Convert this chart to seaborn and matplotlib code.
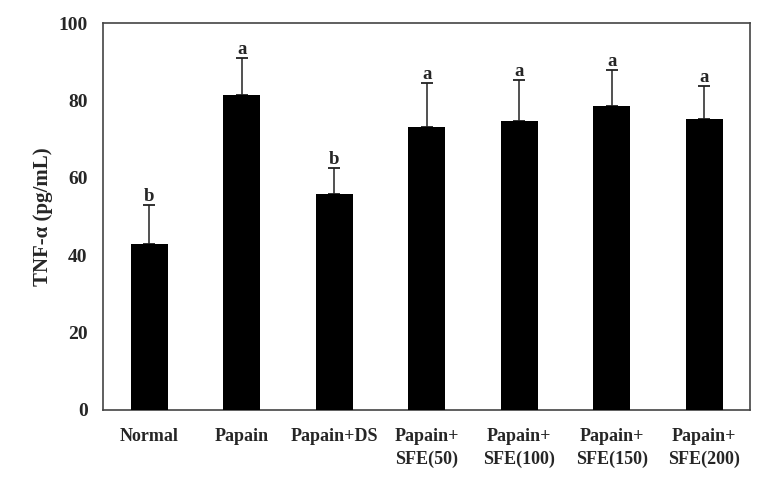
import matplotlib
matplotlib.use("Agg")
import matplotlib.pyplot as plt
import seaborn as sns
import numpy as np
import pandas as pd

categories = ["Normal", "Papain", "Papain+DS", "Papain+\nSFE(50)", "Papain+\nSFE(100)",
              "Papain+\nSFE(150)", "Papain+\nSFE(200)"]
values = [42.9, 81.4, 55.7, 73.2, 74.8, 78.6, 75.2]
errors = [10.1, 9.6, 6.9, 11.2, 10.6, 9.2, 8.6]
letters = ["b", "a", "b", "a", "a", "a", "a"]
yticks = [0, 20, 40, 60, 80, 100]

sns.set_style("white")
plt.rcParams["font.family"] = ["Liberation Serif", "DejaVu Serif"]
plt.rcParams["font.weight"] = "bold"

df = pd.DataFrame({"group": categories, "value": values})

fig = plt.figure(figsize=(7.79, 4.80), dpi=100)
ax = fig.add_axes([0.1322, 0.146, 0.831, 0.806])

sns.barplot(data=df, x="group", y="value", color="black", width=0.4,
            saturation=1, errorbar=None, ax=ax, edgecolor="black", linewidth=0)
for p in ax.patches:
    p.set_zorder(3)

x = np.arange(len(categories))
ax.errorbar(x, values, yerr=[np.zeros(len(errors)), errors], fmt="none",
            ecolor="#222222", elinewidth=1.1, capsize=4, capthick=1.3, zorder=1)

for xi, v, e, lab in zip(x, values, errors, letters):
    ax.annotate(lab, (xi, v + e), xytext=(0, 0), textcoords="offset points",
                ha="center", va="bottom", fontsize=13.5, fontweight="bold")

ax.set_xlim(-0.5, len(categories) - 0.5)
ax.set_ylim(0, 100)
ax.set_yticks(yticks)
ax.set_yticklabels([str(t) for t in yticks], fontsize=14, fontweight="bold")
ax.set_xticks(np.arange(len(categories)) + 0.5, minor=False)
ax.set_xticklabels([])
ax.set_xticks(x, minor=True)
ax.set_xticklabels(categories, minor=True, fontsize=13, fontweight="bold",
                   linespacing=1.4)
ax.tick_params(axis="x", which="minor", length=0, pad=13)
ax.tick_params(axis="x", which="major", direction="in", length=3, color="#888888")
ax.tick_params(axis="y", direction="in", length=3, color="#888888", pad=11)

ax.set_xlabel("")
ax.set_ylabel("TNF-α (pg/mL)", fontsize=15, fontweight="bold", labelpad=4)

for s in ax.spines.values():
    s.set_visible(True)
    s.set_color("#444444")
    s.set_linewidth(1.2)

fig.savefig("out.png", dpi=100)
